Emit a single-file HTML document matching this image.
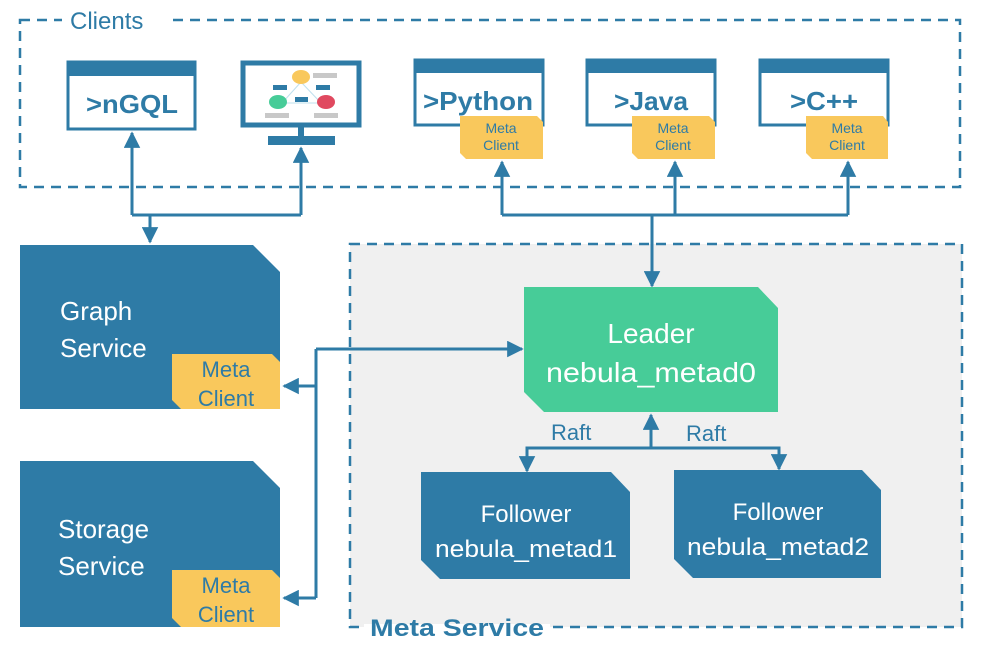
<!DOCTYPE html>
<html><head><meta charset="utf-8"><style>body{margin:0;background:#fff}svg{display:block}text{font-family:"Liberation Sans",sans-serif}</style></head><body>
<svg width="982" height="654" viewBox="0 0 982 654" xmlns="http://www.w3.org/2000/svg">
<defs><marker id="a" viewBox="0 0 10 10" refX="9" refY="5" markerWidth="5.5" markerHeight="5.5" orient="auto"><path d="M0,0L10,5L0,10z" fill="#2e7ba6"/></marker></defs>
<rect x="350" y="244" width="612" height="383" fill="#f0f0f0" stroke="#2e7ba6" stroke-width="2.5" stroke-dasharray="10,7"/>
<rect x="20" y="20" width="940" height="167" fill="none" stroke="#2e7ba6" stroke-width="2.5" stroke-dasharray="10,7"/>
<rect x="62" y="6" width="104" height="28" fill="#fff"/>
<text x="70" y="29" font-size="24" fill="#2e7ba6">Clients</text>
<rect x="364" y="624" width="186" height="8" fill="#fff"/>
<text x="370" y="636" font-size="24" font-weight="bold" fill="#2e7ba6" textLength="174" lengthAdjust="spacingAndGlyphs">Meta Service</text>
<g fill="#fff" stroke="#2e7ba6" stroke-width="3">
<rect x="68" y="62" width="127" height="67"/>
<rect x="415" y="60" width="128" height="65"/>
<rect x="587" y="60" width="128" height="65"/>
<rect x="760" y="60" width="128" height="65"/>
<rect x="243" y="63" width="116" height="62" stroke-width="5"/>
</g>
<g fill="#2e7ba6">
<rect x="67" y="61" width="129" height="15"/>
<rect x="414" y="59" width="130" height="14"/>
<rect x="586" y="59" width="130" height="14"/>
<rect x="759" y="59" width="130" height="14"/>
<rect x="298" y="126" width="6" height="10"/>
<rect x="268" y="136" width="67" height="9"/>
</g>
<line x1="301" y1="82" x2="282" y2="103" stroke="#bfe0ee"/><line x1="301" y1="82" x2="321" y2="103" stroke="#bfe0ee"/><line x1="282" y1="103" x2="321" y2="103" stroke="#bfe0ee"/>
<ellipse cx="301" cy="77" rx="9" ry="7" fill="#f9c85c"/>
<ellipse cx="278" cy="102" rx="9" ry="7" fill="#47cc98"/>
<ellipse cx="326" cy="102" rx="9" ry="7" fill="#e0495f"/>
<g fill="#2e7ba6"><rect x="273" y="85" width="14" height="5"/><rect x="316" y="85" width="14" height="5"/><rect x="295" y="97" width="13" height="5"/></g>
<g fill="#c8c8c8"><rect x="313" y="73" width="24" height="5"/><rect x="265" y="113" width="24" height="5"/><rect x="314" y="113" width="24" height="5"/></g>
<g font-size="26" font-weight="bold" fill="#2e7ba6" text-anchor="middle">
<text x="132" y="113" textLength="92" lengthAdjust="spacingAndGlyphs">&gt;nGQL</text>
<text x="478" y="110" textLength="110" lengthAdjust="spacingAndGlyphs">&gt;Python</text>
<text x="651" y="110" textLength="74" lengthAdjust="spacingAndGlyphs">&gt;Java</text>
<text x="824" y="110" textLength="68" lengthAdjust="spacingAndGlyphs">&gt;C++</text>
</g>
<g fill="#f9c85c">
<path d="M460,116H537L543,122V159H466L460,153z"/>
<path d="M632,116H709L715,122V159H638L632,153z"/>
<path d="M806,116H883L888,122V159H812L806,153z"/>
</g>
<g font-size="14" fill="#2e7ba6" text-anchor="middle">
<text x="501" y="133">Meta</text><text x="501" y="150">Client</text>
<text x="673" y="133">Meta</text><text x="673" y="150">Client</text>
<text x="847" y="133">Meta</text><text x="847" y="150">Client</text>
</g>
<g stroke="#2e7ba6" stroke-width="3" fill="none">
<path d="M132,215V133" marker-end="url(#a)"/>
<path d="M301,215V148" marker-end="url(#a)"/>
<path d="M132,215H301"/>
<path d="M150,215V242" marker-end="url(#a)"/>
<path d="M502,215V162" marker-end="url(#a)"/>
<path d="M675,215V162" marker-end="url(#a)"/>
<path d="M848,215V162" marker-end="url(#a)"/>
<path d="M502,215H848"/>
<path d="M652,215V286" marker-end="url(#a)"/>
<path d="M316,349H522" marker-end="url(#a)"/>
<path d="M316,349V598"/>
<path d="M316,386H284" marker-end="url(#a)"/>
<path d="M316,598H284" marker-end="url(#a)"/>
<path d="M651,448V415" marker-end="url(#a)"/>
<path d="M527,471V448H779V469" />
<path d="M527,455V471" marker-end="url(#a)"/>
<path d="M779,455V469" marker-end="url(#a)"/>
</g>
<g fill="#2e7ba6">
<path d="M20,245H253L280,272V409H20z"/>
<path d="M20,461H253L280,488V627H20z"/>
<path d="M421,472H611L630,492V579H440L421,560z"/>
<path d="M674,470H862L881,490V578H693L674,559z"/>
</g>
<path d="M524,287H758L778,308V412H544L524,392z" fill="#47cc98"/>
<g fill="#f9c85c">
<path d="M172,354H272L280,362V409H181L172,400z"/>
<path d="M172,570H272L280,578V627H181L172,618z"/>
</g>
<g fill="#fff" font-size="26">
<text x="60" y="320">Graph</text><text x="60" y="357">Service</text>
<text x="58" y="538">Storage</text><text x="58" y="575">Service</text>
</g>
<g fill="#2e7ba6" font-size="22" text-anchor="middle">
<text x="226" y="377">Meta</text><text x="226" y="406">Client</text>
<text x="226" y="593">Meta</text><text x="226" y="622">Client</text>
</g>
<g fill="#fff" text-anchor="middle">
<text x="651" y="343" font-size="28">Leader</text>
<text x="651" y="382" font-size="28" textLength="210" lengthAdjust="spacingAndGlyphs">nebula_metad0</text>
<text x="526" y="522" font-size="24">Follower</text>
<text x="526" y="557" font-size="24" textLength="182" lengthAdjust="spacingAndGlyphs">nebula_metad1</text>
<text x="778" y="520" font-size="24">Follower</text>
<text x="778" y="555" font-size="24" textLength="182" lengthAdjust="spacingAndGlyphs">nebula_metad2</text>
</g>
<g fill="#2e7ba6" font-size="22">
<text x="551" y="440">Raft</text>
<text x="686" y="441">Raft</text>
</g>
</svg>
</body></html>
